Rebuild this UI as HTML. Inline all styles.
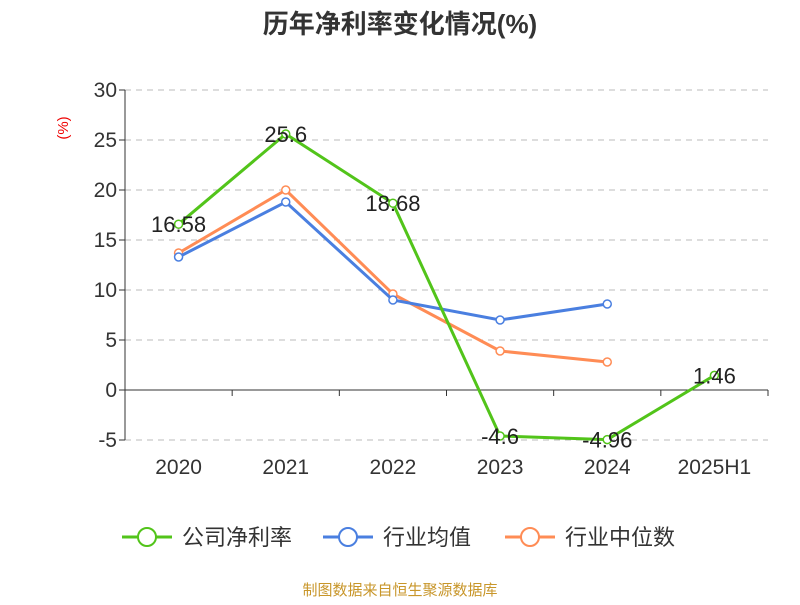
<!DOCTYPE html>
<html><head><meta charset="utf-8"><style>
body{margin:0;background:#fff;font-family:"Liberation Sans","Noto Sans CJK SC",sans-serif}
</style></head><body>
<svg width="800" height="600" xmlns="http://www.w3.org/2000/svg" font-family="Liberation Sans, Noto Sans CJK SC, sans-serif">
<text x="400" y="33" text-anchor="middle" font-size="26" font-weight="bold" fill="#333">历年净利率变化情况(%)</text>
<text x="68" y="128" text-anchor="middle" font-size="15" fill="#e00" transform="rotate(-90 68 128)">(%)</text>
<g id="grid"></g><g id="axes"></g><g id="series"></g>
<g font-size="22" fill="#333">
<g><line x1="122" y1="537" x2="172" y2="537" stroke="#52c41a" stroke-width="3"/><circle cx="147" cy="537" r="9" fill="#fff" stroke="#52c41a" stroke-width="2"/><text x="182" y="545">公司净利率</text></g>
<g><line x1="323" y1="537" x2="373" y2="537" stroke="#4a7fe0" stroke-width="3"/><circle cx="348" cy="537" r="9" fill="#fff" stroke="#4a7fe0" stroke-width="2"/><text x="383" y="545">行业均值</text></g>
<g><line x1="505" y1="537" x2="555" y2="537" stroke="#ff8c55" stroke-width="3"/><circle cx="530" cy="537" r="9" fill="#fff" stroke="#ff8c55" stroke-width="2"/><text x="565" y="545">行业中位数</text></g>
</g>
<text x="400" y="595" text-anchor="middle" font-size="15" fill="#c8962a">制图数据来自恒生聚源数据库</text>
</svg>
<script>
const categories=["2020","2021","2022","2023","2024","2025H1"];
const company=[16.58,25.6,18.68,-4.6,-4.96,1.46];
const industryAvg=[13.3,18.8,9.0,7.0,8.6,null];
const industryMedian=[13.7,20.0,9.6,3.9,2.8,null];
const yTicks=[-5,0,5,10,15,20,25,30];
const NS="http://www.w3.org/2000/svg";
const L=125,R=768,band=(R-L)/categories.length;
const x=i=>L+band*(i+0.5);
const y=v=>390-v*10;
function mk(t,a,p){const e=document.createElementNS(NS,t);for(const k in a)e.setAttribute(k,a[k]);p.appendChild(e);return e;}
const grid=document.getElementById('grid'),axes=document.getElementById('axes'),ser=document.getElementById('series');
yTicks.forEach(v=>{
 if(v!==0){const g=mk('line',{x1:L,x2:R,y1:y(v),y2:y(v),stroke:'#bbb','stroke-dasharray':'6,5'},grid);
 
 }
 const tk=mk('line',{x1:L-6,x2:L,y1:y(v),y2:y(v),stroke:'#333'},axes);
 
 
 const t=mk('text',{x:L-8,y:y(v)+7,'text-anchor':'end','font-size':21,fill:'#333'},axes);t.textContent=v;
 
 
});
const ya=mk('line',{x1:L,x2:L,y1:y(30),y2:y(-5),stroke:'#333'},axes);


const xa=mk('line',{x1:L,x2:R,y1:y(0),y2:y(0),stroke:'#333'},axes);


categories.forEach((c,i)=>{
 const tk=mk('line',{x1:L+band*(i+1),x2:L+band*(i+1),y1:y(0),y2:y(0)+6,stroke:'#333'},axes);
 
 
 const t=mk('text',{x:x(i),y:474,'text-anchor':'middle','font-size':21,fill:'#333'},axes);t.textContent=c;
 
 
});
function series(d,col,name,labels){
 const pts=d.map((v,i)=>v==null?null:[x(i),y(v)]).filter(p=>p);
 const pl=mk('polyline',{points:pts.map(p=>p.join(',')).join(' '),fill:'none',stroke:col,'stroke-width':3},ser);
 
 
 d.forEach((v,i)=>{if(v==null)return;
  const c=mk('circle',{cx:x(i),cy:y(v),r:4,fill:'#fff',stroke:col,'stroke-width':1.5},ser);
  
  
  if(labels){const t=mk('text',{x:x(i),y:y(v)+8,'text-anchor':'middle','font-size':22,fill:'#222'},ser);t.textContent=v;
  
  }
 });
}
series(industryMedian,'#ff8c55','industry-median',false);
series(industryAvg,'#4a7fe0','industry-avg',false);
series(company,'#52c41a','company',true);
</script>
</body></html>
